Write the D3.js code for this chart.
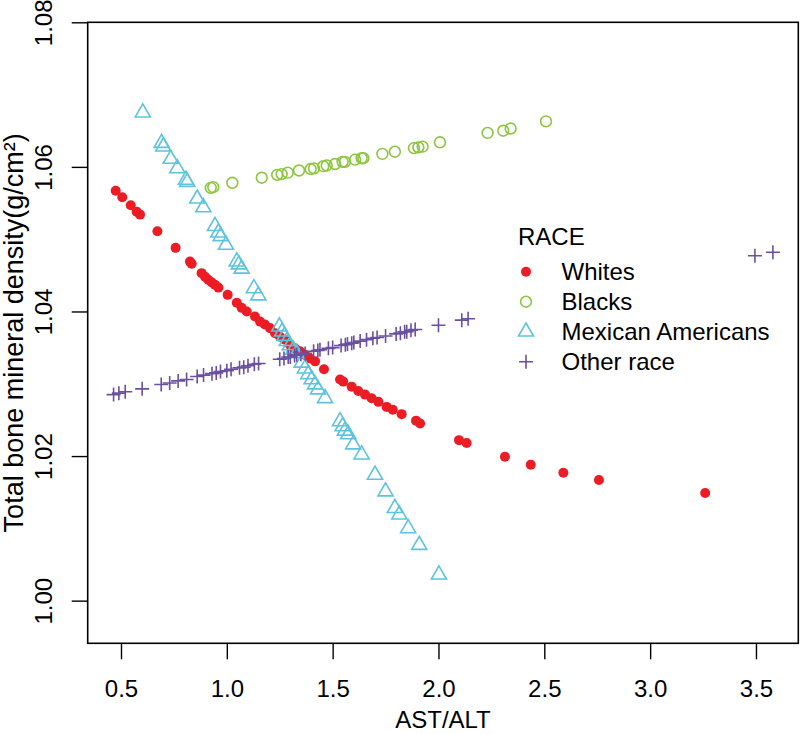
<!DOCTYPE html>
<html><head><meta charset="utf-8">
<script src="https://cdn.jsdelivr.net/npm/d3@7"></script>
<style>body{margin:0;background:#fff} text{font-family:"Liberation Sans",Arial,Helvetica,sans-serif;fill:#000}</style>
</head><body><svg id="c" width="800" height="734"></svg>
<script>
// ---- data ----
const xTicks = [0.5, 1.0, 1.5, 2.0, 2.5, 3.0, 3.5];
const yTicks = [1.00, 1.02, 1.04, 1.06, 1.08];
const xTitle = "AST/ALT";
const yTitle = "Total bone mineral density(g/cm\u00B2)";
const legendTitle = "RACE";
const seriesNames = ["Whites", "Blacks", "Mexican Americans", "Other race"];

const whitesX = [0.475,0.506,0.546,0.574,0.590,0.672,0.758,0.826,0.834,0.881,0.897,0.912,0.929,0.944,0.960,1.004,1.047,1.070,1.094,1.133,1.157,1.180,1.204,1.228,1.251,1.275,1.298,1.322,1.346,1.369,1.393,1.417,1.459,1.535,1.550,1.590,1.621,1.653,1.684,1.716,1.755,1.784,1.826,1.894,1.913,2.097,2.133,2.314,2.436,2.590,2.758,3.260];
const whitesY = [1.0567,1.0558,1.0547,1.0538,1.0534,1.0511,1.0488,1.0469,1.0466,1.0453,1.0448,1.0444,1.0440,1.0437,1.0433,1.0423,1.0412,1.0405,1.0400,1.0393,1.0386,1.0382,1.0377,1.0370,1.0365,1.0361,1.0354,1.0349,1.0345,1.0340,1.0335,1.0331,1.0320,1.0306,1.0303,1.0296,1.0290,1.0285,1.0280,1.0275,1.0268,1.0264,1.0258,1.0249,1.0245,1.0222,1.0218,1.0199,1.0188,1.0177,1.0167,1.0149];

const blacksX = [0.924,0.936,1.026,1.165,1.238,1.259,1.288,1.341,1.396,1.412,1.456,1.472,1.511,1.547,1.558,1.606,1.637,1.645,1.735,1.794,1.884,1.905,1.925,2.007,2.232,2.306,2.341,2.508];
const blacksY = [1.0571,1.0572,1.0578,1.0585,1.0589,1.0590,1.0592,1.0595,1.0597,1.0598,1.0601,1.0602,1.0604,1.0607,1.0607,1.0610,1.0612,1.0612,1.0618,1.0621,1.0626,1.0627,1.0628,1.0634,1.0647,1.0650,1.0653,1.0663];

const mexicanX = [0.603,0.692,0.700,0.735,0.766,0.807,0.813,0.860,0.889,0.944,0.960,0.971,0.996,1.047,1.057,1.070,1.128,1.149,1.248,1.261,1.272,1.284,1.298,1.314,1.330,1.354,1.369,1.385,1.401,1.417,1.431,1.464,1.535,1.547,1.558,1.574,1.597,1.637,1.700,1.750,1.794,1.815,1.857,1.909,2.002];
const mexicanY = [1.0675,1.0633,1.0628,1.0611,1.0598,1.0582,1.0579,1.0556,1.0544,1.0518,1.0509,1.0504,1.0492,1.0469,1.0465,1.0459,1.0432,1.0422,1.0379,1.0372,1.0366,1.0359,1.0353,1.0347,1.0342,1.0329,1.0321,1.0313,1.0306,1.0299,1.0292,1.0280,1.0248,1.0241,1.0235,1.0230,1.0216,1.0202,1.0174,1.0151,1.0128,1.0119,1.0100,1.0077,1.0036];

const otherX = [0.465,0.490,0.520,0.600,0.690,0.730,0.770,0.810,0.860,0.890,0.930,0.950,0.970,1.000,1.020,1.060,1.080,1.100,1.130,1.150,1.250,1.270,1.290,1.300,1.320,1.330,1.350,1.370,1.410,1.430,1.440,1.480,1.500,1.540,1.560,1.570,1.590,1.600,1.630,1.660,1.690,1.710,1.750,1.800,1.820,1.840,1.850,1.870,1.890,2.000,2.110,2.140,3.495,3.580];
const otherY = [1.0285,1.0287,1.0289,1.0293,1.0299,1.0301,1.0304,1.0306,1.0310,1.0312,1.0314,1.0315,1.0317,1.0318,1.0320,1.0322,1.0323,1.0325,1.0327,1.0328,1.0334,1.0335,1.0337,1.0337,1.0339,1.0340,1.0341,1.0342,1.0345,1.0346,1.0347,1.0349,1.0350,1.0353,1.0354,1.0355,1.0356,1.0357,1.0359,1.0361,1.0363,1.0364,1.0366,1.0369,1.0370,1.0372,1.0372,1.0374,1.0375,1.0381,1.0388,1.0390,1.0477,1.0482];

// ---- styles ----
const colors = ["#EC1C24", "#8CC63F", "#5EC3DC", "#6A50A1"];
const shapes = ["dot", "circle", "triangle", "plus"];

const svg = d3.select("#c");
const L = 87.7, R = 798.3, T = 22.3, B = 643.3;
const x = d3.scaleLinear().domain([0.3427, 3.700]).range([L, R]);
const y = d3.scaleLinear().domain([0.9941, 1.08]).range([B, T]);

// axes
const gx = svg.append("g").attr("transform", `translate(0,${B})`)
  .call(d3.axisBottom(x).tickValues(xTicks).tickFormat(d3.format(".1f")).tickSize(16).tickPadding(21));
gx.select(".domain").remove();
gx.selectAll("line").attr("stroke", "#000").attr("stroke-width", 1.4);
gx.selectAll("text").attr("font-size", 24).style("font-family", '"Liberation Sans",Arial,sans-serif');

const gy = svg.append("g").attr("transform", `translate(${L},0)`)
  .call(d3.axisLeft(y).tickValues(yTicks).tickFormat(d3.format(".2f")).tickSize(16));
gy.select(".domain").remove();
gy.selectAll("line").attr("stroke", "#000").attr("stroke-width", 1.4);
gy.selectAll("text").attr("font-size", 24).style("font-family", '"Liberation Sans",Arial,sans-serif')
  .attr("x", 0).attr("dy", 0).attr("text-anchor", "middle")
  .attr("transform", "translate(-36,0) rotate(-90)");

// box
svg.append("rect").attr("x", L).attr("y", T).attr("width", R - L).attr("height", B - T)
  .attr("fill", "none").attr("stroke", "#000").attr("stroke-width", 1.6);

// titles
svg.append("text").attr("x", (L + R) / 2).attr("y", 728).attr("text-anchor", "middle")
  .attr("font-size", 24).text(xTitle);
svg.append("text").attr("transform", `translate(23,${(T + B) / 2}) rotate(-90)`)
  .attr("text-anchor", "middle").attr("font-size", 27).text(yTitle);

// markers
function marker(g, shape, color, cx, cy) {
  if (shape === "dot") {
    g.append("circle").attr("cx", cx).attr("cy", cy).attr("r", 5).attr("fill", color);
  } else if (shape === "circle") {
    g.append("circle").attr("cx", cx).attr("cy", cy).attr("r", 5.4).attr("fill", "none")
      .attr("stroke", color).attr("stroke-width", 1.6);
  } else if (shape === "triangle") {
    const r = 5.6, a = 1.5551 * r, w = 1.3468 * r, b = 0.7776 * r;
    g.append("path").attr("d", `M${cx},${cy - a}L${cx + w},${cy + b}L${cx - w},${cy + b}Z`)
      .attr("fill", "none").attr("stroke", color).attr("stroke-width", 1.6);
  } else {
    const h = 7;
    g.append("path").attr("d", `M${cx - h},${cy}H${cx + h}M${cx},${cy - h}V${cy + h}`)
      .attr("fill", "none").attr("stroke", color).attr("stroke-width", 1.6);
  }
}

const seriesX = [whitesX, blacksX, mexicanX, otherX];
const seriesY = [whitesY, blacksY, mexicanY, otherY];
const plot = svg.append("g");
seriesX.forEach((xs, s) => {
  const g = plot.append("g");
  xs.forEach((v, i) => marker(g, shapes[s], colors[s], x(v), y(seriesY[s][i])));
});

// legend
const lg = svg.append("g");
lg.append("text").attr("x", 518).attr("y", 245).attr("font-size", 24).text(legendTitle);
seriesNames.forEach((name, i) => {
  const cy = 271.7 + i * 30;
  marker(lg, shapes[i], colors[i], 526, cy);
  lg.append("text").attr("x", 561.5).attr("y", cy + 8.6).attr("font-size", 24).text(name);
});
</script></body></html>
